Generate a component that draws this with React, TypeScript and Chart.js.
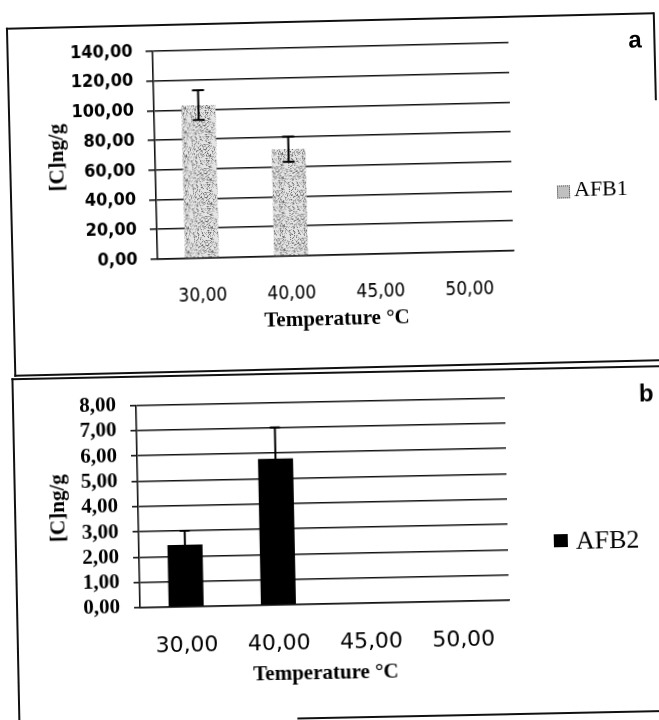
import React, { useEffect, useRef } from "react";
import { Chart, registerables } from "chart.js";

Chart.register(...registerables);

// ---------- data ----------
const CATEGORIES = ["30,00", "40,00", "45,00", "50,00"];

const AFB1_LABEL = "AFB1";
const AFB1_VALUES: (number | null)[] = [103, 72, null, null];
const AFB1_ERRORS: (number | null)[] = [10, 8.5, null, null];
const AFB1_Y_MIN = 0;
const AFB1_Y_MAX = 140;
const AFB1_Y_STEP = 20;

const AFB2_LABEL = "AFB2";
const AFB2_VALUES: (number | null)[] = [2.45, 5.78, null, null];
const AFB2_ERRORS: (number | null)[] = [0.55, 1.24, null, null];
const AFB2_Y_MIN = 0;
const AFB2_Y_MAX = 8;
const AFB2_Y_STEP = 1;

const X_TITLE = "Temperature °C";
const Y_TITLE = "[C]ng/g";
const PANEL_A_TAG = "a";
const PANEL_B_TAG = "b";

const fmt = (v: number | string) => Number(v).toFixed(2).replace(".", ",");

function makeSpeckle(): CanvasPattern | string {
  const c = document.createElement("canvas");
  c.width = 24;
  c.height = 24;
  const g = c.getContext("2d");
  if (!g) return "#c4c4c4";
  g.fillStyle = "#e4e4e4";
  g.fillRect(0, 0, 24, 24);
  for (let y = 0; y < 24; y++) {
    for (let x = 0; x < 24; x++) {
      const h = ((x * 7919 + y * 104729 + x * y * 31) ^ (x * 53 + y * 97)) % 100;
      if (h < 9) {
        g.fillStyle = "#6a6a6a";
        g.fillRect(x, y, 1, 1);
      } else if (h < 36) {
        g.fillStyle = "#a8a8a8";
        g.fillRect(x, y, 1, 1);
      }
    }
  }
  return g.createPattern(c, "repeat") || "#c4c4c4";
}

function errorBars(errors: (number | null)[], capHalf: number, width: number) {
  return {
    id: "errorBars",
    afterDatasetsDraw(chart: any) {
      const meta = chart.getDatasetMeta(0);
      const ys = chart.scales.y;
      const ctx = chart.ctx;
      const vals = chart.data.datasets[0].data;
      ctx.save();
      ctx.strokeStyle = "#000";
      ctx.lineWidth = width;
      meta.data.forEach((bar: any, i: number) => {
        const v = vals[i];
        const e = errors[i];
        if (v == null || e == null) return;
        const top = ys.getPixelForValue(v + e);
        const bot = ys.getPixelForValue(v - e);
        ctx.beginPath();
        ctx.moveTo(bar.x, top);
        ctx.lineTo(bar.x, bot);
        ctx.moveTo(bar.x - capHalf, top);
        ctx.lineTo(bar.x + capHalf, top);
        ctx.moveTo(bar.x - capHalf, bot);
        ctx.lineTo(bar.x + capHalf, bot);
        ctx.stroke();
      });
      ctx.restore();
    },
  };
}

type PanelSpec = {
  label: string;
  values: (number | null)[];
  errors: (number | null)[];
  yMin: number;
  yMax: number;
  yStep: number;
  fill: "speckle" | string;
  H: number;
  yAxisWidth: number;
  padTop: number;
  padRight: number;
  plotBottom: number;
  yTickFont: any;
  xTickFont: any;
  yTickPad: number;
  yTickLen: number;
  xTickPad: number;
  yTitleFont: any;
  yTitlePad: number;
  xTitleFont: any;
  xTitlePadBottom: number;
  barPct: number;
  capHalf: number;
};

function buildChart(canvas: HTMLCanvasElement, s: PanelSpec) {
  const line = "#111";
  const bg = s.fill === "speckle" ? makeSpeckle() : s.fill;
  return new Chart(canvas, {
    type: "bar",
    data: {
      labels: CATEGORIES,
      datasets: [
        {
          label: s.label,
          data: s.values,
          backgroundColor: bg as any,
          borderWidth: 0,
          barPercentage: s.barPct,
          categoryPercentage: 1,
        },
      ],
    },
    options: {
      responsive: false,
      animation: false,
      events: [],
      layout: { padding: { left: 0, top: s.padTop, right: s.padRight, bottom: 0 } },
      plugins: { legend: { display: false }, tooltip: { enabled: false }, title: { display: false } },
      scales: {
        x: {
          grid: { display: false },
          border: { display: true, color: line, width: 1.6 },
          ticks: { color: "#000", font: s.xTickFont, padding: s.xTickPad, maxRotation: 0, autoSkip: false },
          title: {
            display: true,
            text: X_TITLE,
            color: "#000",
            font: s.xTitleFont,
            padding: { top: 0, bottom: s.xTitlePadBottom },
          },
          afterFit: (sc: any) => {
            sc.height = s.H - s.plotBottom;
          },
        },
        y: {
          min: s.yMin,
          max: s.yMax,
          grid: { display: true, color: line, lineWidth: 1.6, drawTicks: true, tickLength: s.yTickLen, tickColor: line },
          border: { display: true, color: line, width: 1.6 },
          ticks: {
            stepSize: s.yStep,
            autoSkip: false,
            color: "#000",
            font: s.yTickFont,
            padding: s.yTickPad,
            callback: (v: any) => fmt(v),
          },
          title: {
            display: true,
            text: Y_TITLE,
            color: "#000",
            font: s.yTitleFont,
            padding: { top: s.yTitlePad, bottom: 0 },
          },
          afterFit: (sc: any) => {
            sc.width = s.yAxisWidth;
          },
        },
      },
    },
    plugins: [errorBars(s.errors, s.capHalf, 2) as any],
  });
}

const SPEC_A: PanelSpec = {
  label: AFB1_LABEL,
  values: AFB1_VALUES,
  errors: AFB1_ERRORS,
  yMin: AFB1_Y_MIN,
  yMax: AFB1_Y_MAX,
  yStep: AFB1_Y_STEP,
  fill: "speckle",
  H: 340,
  yAxisWidth: 145,
  padTop: 25,
  padRight: 144,
  plotBottom: 233,
  yTickFont: { family: "'DejaVu Sans Condensed', 'DejaVu Sans', sans-serif", size: 18, weight: "bold", lineHeight: 1.2 },
  xTickFont: { family: "'DejaVu Sans Condensed', 'DejaVu Sans', sans-serif", size: 19, lineHeight: 1.2 },
  yTickPad: 13,
  yTickLen: 7,
  xTickPad: 19,
  yTitleFont: { family: "'Liberation Serif', serif", size: 21, weight: "bold", lineHeight: 1.2 },
  yTitlePad: 35,
  xTitleFont: { family: "'Liberation Serif', serif", size: 21, weight: "bold", lineHeight: 1.2 },
  xTitlePadBottom: 30,
  barPct: 0.38,
  capHalf: 6,
};

const SPEC_B: PanelSpec = {
  label: AFB2_LABEL,
  values: AFB2_VALUES,
  errors: AFB2_ERRORS,
  yMin: AFB2_Y_MIN,
  yMax: AFB2_Y_MAX,
  yStep: AFB2_Y_STEP,
  fill: "#000000",
  H: 340,
  yAxisWidth: 128,
  padTop: 25,
  padRight: 148,
  plotBottom: 229,
  yTickFont: { family: "'Liberation Serif', serif", size: 21, weight: "bold", lineHeight: 1.2 },
  xTickFont: { family: "'DejaVu Sans', sans-serif", size: 22, lineHeight: 1.2 },
  yTickPad: 14,
  yTickLen: 6,
  xTickPad: 18,
  yTitleFont: { family: "'Liberation Serif', serif", size: 21, weight: "bold", lineHeight: 1.2 },
  yTitlePad: 36,
  xTitleFont: { family: "'Liberation Serif', serif", size: 21, weight: "bold", lineHeight: 1.2 },
  xTitlePadBottom: 29,
  barPct: 0.38,
  capHalf: 5,
};

function ChartCanvas({ spec, left, top, width, height }: { spec: PanelSpec; left: number; top: number; width: number; height: number }) {
  const ref = useRef<HTMLCanvasElement | null>(null);
  useEffect(() => {
    if (!ref.current) return;
    const ch = buildChart(ref.current, spec);
    return () => ch.destroy();
  }, [spec]);
  return (
    <canvas
      ref={ref}
      width={width}
      height={height}
      style={{ position: "absolute", left, top, width, height }}
    />
  );
}

const abs = (o: React.CSSProperties): React.CSSProperties => ({ position: "absolute", ...o });
const LINE = "#111";

export default function App() {
  return (
    <div style={abs({ left: 0, top: 0, width: 659, height: 720, overflow: "hidden", background: "#fff" })}>
      {/* Panel a */}
      <div style={abs({ left: 0, top: 0, width: 659, height: 720, transform: "rotate(-1.38deg)", transformOrigin: "332px 151px" })}>
        <div style={abs({ left: 9, top: 20, width: 648, height: 0, borderTop: `2px solid ${LINE}` })} />
        <div style={abs({ left: 9, top: 20, width: 0, height: 349, borderLeft: `2px solid ${LINE}` })} />
        <div style={abs({ left: 9, top: 367, width: 660, height: 0, borderTop: `2px solid ${LINE}` })} />
        <div style={abs({ left: 656, top: 20, width: 0, height: 88, borderLeft: `2px solid ${LINE}` })} />
        <ChartCanvas spec={SPEC_A} left={10} top={22} width={645} height={340} />
        <div style={abs({ left: 556, top: 191, width: 11, height: 11, background: "#c0c0c0", border: "1px dotted #444" })} />
        <div style={abs({ left: 573, top: 184, fontFamily: "'Liberation Serif', serif", fontSize: 22, lineHeight: "22px", color: "#000" })}>{AFB1_LABEL}</div>
        <div style={abs({ left: 631, top: 35, fontFamily: "'Liberation Sans', Arial, sans-serif", fontWeight: "bold", fontSize: 24, lineHeight: "24px", color: "#000" })}>{PANEL_A_TAG}</div>
      </div>
      {/* Panel b */}
      <div style={abs({ left: 0, top: 0, width: 659, height: 720, transform: "rotate(-1.16deg)", transformOrigin: "322px 502px" })}>
        <div style={abs({ left: 14, top: 372, width: 660, height: 0, borderTop: `2px solid ${LINE}` })} />
        <div style={abs({ left: 14, top: 372, width: 0, height: 360, borderLeft: `2px solid ${LINE}` })} />
        <div style={abs({ left: 293, top: 717, width: 380, height: 0, borderTop: `2px solid ${LINE}` })} />
        <ChartCanvas spec={SPEC_B} left={10} top={375} width={645} height={340} />
        <div style={abs({ left: 553, top: 539, width: 14, height: 13, background: "#000" })} />
        <div style={abs({ left: 575, top: 533, fontFamily: "'Liberation Serif', serif", fontSize: 26, lineHeight: "26px", color: "#000" })}>{AFB2_LABEL}</div>
        <div style={abs({ left: 641, top: 388, fontFamily: "'Liberation Sans', Arial, sans-serif", fontWeight: "bold", fontSize: 24, lineHeight: "24px", color: "#000" })}>{PANEL_B_TAG}</div>
      </div>
    </div>
  );
}
